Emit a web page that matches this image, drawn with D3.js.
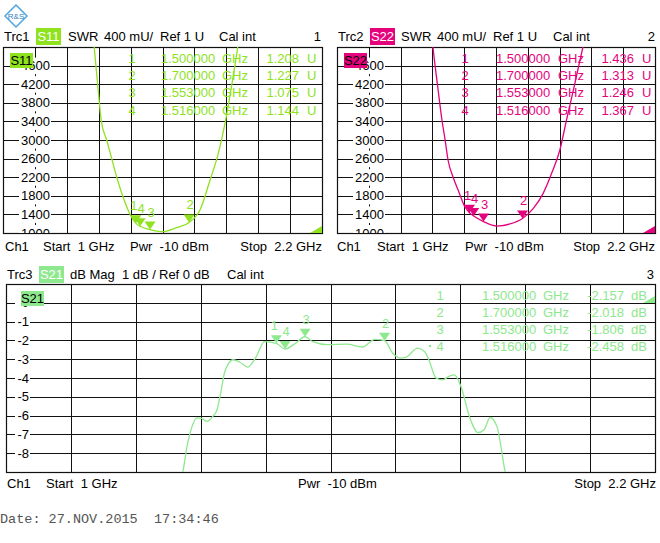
<!DOCTYPE html>
<html>
<head>
<meta charset="utf-8">
<script src="https://cdn.jsdelivr.net/npm/d3@7"></script>
<style>
  body { margin: 0; background: #fff; }
  svg text { font-family: "Liberation Sans", Arial, sans-serif; font-size: 13px; }
</style>
</head>
<body>
<div id="chart"></div>
<script>
// marker settings shared by all traces
const markerIds = ["1", "2", "3", "4"];
const markerFreq = [1.5, 1.7, 1.553, 1.516];

// S11 SWR (GHz, mU)
const s11Freq = [1.335, 1.343, 1.356, 1.370, 1.390, 1.409, 1.428, 1.450, 1.478, 1.500, 1.516, 1.553, 1.600, 1.650, 1.700, 1.741, 1.779, 1.810, 1.835, 1.861, 1.883, 1.892];
const s11Swr = [5500, 5000, 4200, 3400, 3000, 2600, 2200, 1800, 1400, 1208, 1144, 1075, 1030, 1110, 1227, 1494, 2140, 2713, 3350, 4200, 5000, 5400];
const s11Markers = [1.208, 1.227, 1.075, 1.144];

// S22 SWR (GHz, mU)
const s22Freq = [1.355, 1.362, 1.380, 1.396, 1.408, 1.419, 1.438, 1.457, 1.483, 1.500, 1.516, 1.553, 1.604, 1.653, 1.700, 1.741, 1.778, 1.810, 1.841, 1.866, 1.897, 1.928, 1.936];
const s22Swr = [5400, 5000, 4150, 3430, 3000, 2570, 2204, 1925, 1560, 1436, 1367, 1246, 1150, 1194, 1313, 1530, 1853, 2283, 2785, 3430, 4200, 5000, 5200];
const s22Markers = [1.436, 1.313, 1.246, 1.367];

// S21 magnitude (GHz, dB)
const s21Freq = [1.320, 1.327, 1.335, 1.342, 1.353, 1.362, 1.372, 1.382, 1.390, 1.397, 1.404, 1.411, 1.420, 1.432, 1.447, 1.462, 1.478, 1.500, 1.516, 1.533, 1.553, 1.567, 1.594, 1.630, 1.659, 1.682, 1.700, 1.715, 1.730, 1.740, 1.761, 1.774, 1.783, 1.795, 1.807, 1.820, 1.829, 1.842, 1.857, 1.873, 1.884, 1.895, 1.908, 1.923, 1.930];
const s21Mag = [-9.8, -9.0, -7.6, -6.76, -6.12, -6.15, -6.31, -6.05, -5.7, -4.8, -3.72, -3.25, -3.03, -3.15, -3.42, -2.9, -2.06, -2.157, -2.458, -2.2, -1.806, -2.07, -2.23, -2.2, -2.35, -1.95, -2.018, -2.68, -2.94, -2.89, -2.41, -2.59, -3.12, -4.0, -4.1, -3.9, -3.83, -4.52, -6.06, -6.9, -6.75, -6.1, -6.6, -9.0, -9.8];
const s21Markers = [-2.157, -2.018, -1.806, -2.458];

// tick labels
const swrTicks = [4600, 4200, 3800, 3400, 3000, 2600, 2200, 1800, 1400, 1000];
const magTicks = [0, -1, -2, -3, -4, -5, -6, -7, -8];

const svg = d3.select("#chart").append("svg")
    .attr("width", 660)
    .attr("height", 543);

// R&S logo
const logo = svg.append("g").attr("transform", "translate(16,16)");
logo.append("path")
    .attr("d", "M0,-11 L11,0 L0,11 L-11,0 Z")
    .attr("fill", "none")
    .attr("stroke", "#4ea6e0")
    .attr("stroke-width", 1.5);
logo.append("text")
    .attr("text-anchor", "middle")
    .attr("y", 3)
    .style("font-size", "8px")
    .attr("fill", "#2f7fc0")
    .text("R&S");

let clipId = 0;

function drawPanel(p) {
    const x = d3.scaleLinear().domain([1, 2.2]).range([p.left, p.right]);
    const y = d3.scaleLinear().domain(p.yDomain).range([p.bottom, p.top]);
    const g = svg.append("g");

    clipId++;
    const cid = "clip" + clipId;
    svg.append("defs").append("clipPath").attr("id", cid)
        .append("rect")
        .attr("x", p.left).attr("y", p.top)
        .attr("width", p.right - p.left).attr("height", p.bottom - p.top);

    // grid
    const xt = d3.range(1, 10).map(k => 1 + k * 0.12);
    g.selectAll(".vg").data(xt).enter().append("line")
        .attr("x1", d => Math.round(x(d)) + 0.5).attr("x2", d => Math.round(x(d)) + 0.5)
        .attr("y1", p.top).attr("y2", p.bottom)
        .attr("stroke", "#111").attr("stroke-width", 1);
    const yt = d3.range(1, 10).map(k => p.yDomain[0] + k * (p.yDomain[1] - p.yDomain[0]) / 10);
    g.selectAll(".hg").data(yt).enter().append("line")
        .attr("x1", p.left).attr("x2", p.right)
        .attr("y1", d => Math.round(y(d)) + 0.5).attr("y2", d => Math.round(y(d)) + 0.5)
        .attr("stroke", "#111").attr("stroke-width", 1);
    g.append("rect")
        .attr("x", p.left + 0.5).attr("y", p.top + 0.5)
        .attr("width", p.right - p.left).attr("height", p.bottom - p.top)
        .attr("fill", "none").attr("stroke", "#111").attr("stroke-width", 1.2);

    // tick labels with white backing
    const tl = g.append("g").attr("clip-path", "url(#" + cid + ")");
    tl.selectAll("rect").data(p.ticks).enter().append("rect")
        .attr("x", p.labelLeft).attr("width", p.labelRight - p.labelLeft)
        .attr("y", d => y(d) - 8).attr("height", 16.5)
        .attr("fill", "#fff");
    tl.selectAll("text").data(p.ticks).enter().append("text")
        .attr("x", p.labelRight - 1)
        .attr("y", d => y(d) + 4.5)
        .attr("text-anchor", "end")
        .text(d => d);

    // trace name box inside the plot
    g.append("rect")
        .attr("x", p.nameBox[0]).attr("y", p.nameBox[1])
        .attr("width", 23).attr("height", 15)
        .attr("fill", p.color);
    g.append("text")
        .attr("x", p.nameBox[0] + 11.5).attr("y", p.nameBox[1] + 12)
        .attr("text-anchor", "middle")
        .attr("fill", "#000")
        .text(p.name);

    // trace
    const pts = p.freq.map((f, i) => [f, p.vals[i]]);
    const line = d3.line()
        .x(d => x(d[0]))
        .y(d => y(d[1]))
        .curve(d3.curveMonotoneX);
    g.append("path")
        .datum(pts)
        .attr("clip-path", "url(#" + cid + ")")
        .attr("fill", "none")
        .attr("stroke", p.color)
        .attr("stroke-width", 1.3)
        .attr("d", line);

    // markers (SWR plotted in mU, table in U)
    const mk = g.append("g");
    markerFreq.forEach((f, i) => {
        const mx = x(f), my = y(p.markers[i] * p.markerScale);
        mk.append("path")
            .attr("d", `M${mx},${my} L${mx - 5.5},${my - 8} L${mx + 5.5},${my - 8} Z`)
            .attr("fill", p.color);
        mk.append("text")
            .attr("x", mx + (markerIds[i] === "1" ? -2 : 1))
            .attr("y", my - 13)
            .attr("text-anchor", "middle")
            .attr("fill", p.color)
            .text(markerIds[i]);
    });

    // reference level arrow
    const r = p.refArrow;
    g.append("path")
        .attr("d", `M${r[0]},${r[1]} L${p.right},${r[1] - 7} L${p.right},${Math.min(r[1] + 7, p.bottom)} L${p.right},${r[1]} Z`)
        .attr("fill", p.color);

    // marker table
    const tb = g.append("g").attr("fill", p.color);
    markerFreq.forEach((f, i) => {
        const ty = p.tableTop + i * p.tableStep + 4.5;
        tb.append("text").attr("x", p.tableCols[0]).attr("y", ty)
            .attr("text-anchor", "middle").text(markerIds[i]);
        tb.append("text").attr("x", p.tableCols[1]).attr("y", ty)
            .text(f.toFixed(6));
        tb.append("text").attr("x", p.tableCols[2]).attr("y", ty)
            .text("GHz");
        tb.append("text").attr("x", p.tableCols[3]).attr("y", ty)
            .attr("text-anchor", "end").text(p.markers[i].toFixed(3));
        tb.append("text").attr("x", p.tableCols[4]).attr("y", ty)
            .text(p.unit);
    });
    if (p.activeDot) {
        tb.append("circle")
            .attr("cx", p.activeDot[0]).attr("cy", p.activeDot[1]).attr("r", 1.2);
    }

    // header and footer text
    const hd = g.append("g");
    hd.append("rect")
        .attr("x", p.headBox[0]).attr("y", p.headBox[1])
        .attr("width", 25).attr("height", 17)
        .attr("fill", p.color);
    p.header.forEach(h => {
        hd.append("text")
            .attr("x", h[1]).attr("y", h[2])
            .attr("text-anchor", h[3] || "start")
            .attr("fill", h[4] || "#000")
            .text(h[0]);
    });
}

drawPanel({
    left: 3, right: 322, top: 47, bottom: 233,
    yDomain: [1000, 5000],
    ticks: swrTicks,
    labelLeft: 19, labelRight: 51,
    color: "#8ee21e", name: "S11", nameBox: [10, 53],
    freq: s11Freq, vals: s11Swr,
    markers: s11Markers, markerScale: 1000,
    refArrow: [310, 233],
    tableTop: 58.5, tableStep: 17.2,
    tableCols: [132, 161, 222, 299, 307], unit: "U",
    headBox: [36, 28],
    header: [
        ["Trc1", 4, 41], ["S11", 48.5, 41, "middle", "#fff"], ["SWR", 68, 41],
        ["400 mU/", 104, 41], ["Ref 1 U", 160, 41], ["Cal int", 219, 41], ["1", 321, 41, "end"],
        ["Ch1", 5, 251], ["Start  1 GHz", 43, 251], ["Pwr  -10 dBm", 130, 251], ["Stop  2.2 GHz", 322, 251, "end"]
    ]
});

drawPanel({
    left: 337, right: 655, top: 47, bottom: 233,
    yDomain: [1000, 5000],
    ticks: swrTicks,
    labelLeft: 353, labelRight: 385,
    color: "#e5027d", name: "S22", nameBox: [344, 53],
    freq: s22Freq, vals: s22Swr,
    markers: s22Markers, markerScale: 1000,
    refArrow: [643, 233],
    tableTop: 58.5, tableStep: 17.2,
    tableCols: [465, 496, 558, 634, 642], unit: "U",
    headBox: [370, 28],
    header: [
        ["Trc2", 338, 41], ["S22", 382.5, 41, "middle", "#fff"], ["SWR", 401, 41],
        ["400 mU/", 437, 41], ["Ref 1 U", 493, 41], ["Cal int", 553, 41], ["2", 655, 41, "end"],
        ["Ch1", 337, 251], ["Start  1 GHz", 377, 251], ["Pwr  -10 dBm", 465, 251], ["Stop  2.2 GHz", 655, 251, "end"]
    ]
});

drawPanel({
    left: 6, right: 655, top: 284, bottom: 472,
    yDomain: [-9, 1],
    ticks: magTicks,
    labelLeft: 15, labelRight: 30,
    color: "#8ee88e", name: "S21", nameBox: [21, 291],
    freq: s21Freq, vals: s21Mag,
    markers: s21Markers, markerScale: 1,
    refArrow: [643, 303],
    tableTop: 295, tableStep: 17,
    tableCols: [440, 482, 543, 624, 631], unit: "dB",
    activeDot: [430, 346],
    headBox: [39, 266],
    header: [
        ["Trc3", 7, 279], ["S21", 51.5, 279, "middle", "#fff"], ["dB Mag", 70, 279],
        ["1 dB /", 122, 279], ["Ref 0 dB", 159, 279], ["Cal int", 227, 279], ["3", 654, 279, "end"],
        ["Ch1", 7, 488], ["Start  1 GHz", 46, 488], ["Pwr  -10 dBm", 298, 488], ["Stop  2.2 GHz", 656, 488, "end"]
    ]
});

svg.selectAll("text").style("white-space", "pre");

svg.append("text")
    .attr("x", 0).attr("y", 523)
    .style("font-family", "'Liberation Mono', 'DejaVu Sans Mono', monospace")
    .style("font-size", "13.5px")
    .style("white-space", "pre")
    .attr("fill", "#555")
    .text("Date: 27.NOV.2015  17:34:46");
</script>
</body>
</html>
